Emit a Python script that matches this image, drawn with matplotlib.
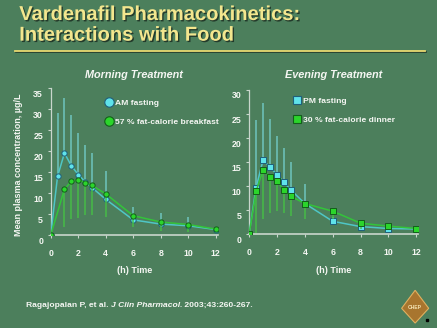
import matplotlib
matplotlib.use("Agg")
import matplotlib.pyplot as plt
import matplotlib.patheffects as pe
import matplotlib.transforms as mtransforms
from matplotlib.lines import Line2D
from matplotlib.patches import Polygon
import numpy as np

plt.rcParams['font.family'] = ['Liberation Sans', 'DejaVu Sans']
plt.rcParams['font.weight'] = 'bold'
plt.rcParams['axes.titleweight'] = 'bold'
plt.rcParams['axes.labelweight'] = 'bold'

# morning dosing
t_am = [0, 0.5, 1, 1.5, 2, 2.5, 3, 4, 6, 8, 10, 12]
am_fasting = [0, 14.0, 19.5, 16.5, 14.4, 12.7, 11.3, 8.5, 3.6, 2.6, 2.2, 1.3]
am_fasting_hi = [0, 29.0, 32.7, 28.7, 24.4, 21.5, 19.5, 15.2, 6.6, 5.3, 4.4, 1.6]
t_breakfast = [0, 1, 1.5, 2, 2.5, 3, 4, 6, 8, 10, 12]
breakfast = [0, 10.9, 12.8, 13.1, 12.5, 11.8, 9.8, 4.6, 3.1, 2.5, 1.4]
breakfast_lo = [0, 2.0, 3.8, 4.0, 4.8, 4.8, 4.2, 2.0, 1.0, 0.6, 1.0]

# evening dosing
t_pm = [0, 0.5, 1, 1.5, 2, 2.5, 3, 4, 6, 8, 10, 12]
pm_fasting = [0, 9.7, 15.4, 14.0, 12.4, 10.8, 9.2, 6.4, 2.7, 1.6, 1.2, 1.1]
pm_fasting_hi = [0, 23.8, 27.3, 24.0, 20.5, 17.9, 15.0, 10.4, 3.5, 2.4, 2.3, 1.6]
dinner = [0, 8.9, 13.3, 12.0, 11.0, 9.3, 7.9, 6.4, 4.8, 2.3, 1.7, 1.2]
dinner_lo = [0, 0.2, 3.2, 4.5, 4.9, 4.5, 3.8, 3.1, 3.2, 1.2, 0.9, 0.6]

x_ticks = [0, 2, 4, 6, 8, 10, 12]

BG = '#4c7f5c'
TITLE_YELLOW = '#f3e68e'
CYAN_LINE = '#4fc6c6'
CYAN_FACE = '#5fe3ea'
CYAN_EDGE = '#1f5f7a'
CYAN_BAR = '#72cbc6'
GREEN_LINE = '#33c43a'
GREEN_FACE = '#2bd52b'
GREEN_EDGE = '#135f1a'
GREEN_BAR = '#45c045'
AXIS = '#c9d6cc'
WHITE = '#f4f6f2'

fig = plt.figure(figsize=(4.37, 3.28), dpi=100, facecolor=BG)

shadow = [pe.withSimplePatchShadow(offset=(1, -1), shadow_rgbFace='#1f3326', alpha=0.9)]
fig.text(0.044, 0.939, 'Vardenafil Pharmacokinetics:', fontsize=14.5,
         color=TITLE_YELLOW, va='baseline', path_effects=shadow)
fig.text(0.044, 0.876, 'Interactions with Food', fontsize=14.5,
         color=TITLE_YELLOW, va='baseline', path_effects=shadow)
fig.add_artist(Line2D([0.036, 0.975], [0.841, 0.841], color='#243a2b',
                      lw=1.2, transform=fig.transFigure))
fig.add_artist(Line2D([0.034, 0.973], [0.845, 0.845], color='#e8d870',
                      lw=1.3, transform=fig.transFigure))


def style_axes(ax, ymax):
    ax.set_facecolor('none')
    ax.set_xlim(0, 12.15)
    ax.set_ylim(0, ymax)
    for side in ('top', 'right'):
        ax.spines[side].set_visible(False)
    ax.spines['left'].set_color(AXIS)
    ax.spines['bottom'].set_color(AXIS)
    ax.spines['left'].set_linewidth(0.9)
    ax.spines['bottom'].set_linewidth(1.2)
    ax.set_xticks(x_ticks)
    ax.set_yticks(np.arange(0, ymax + 1, 5))
    ax.tick_params(axis='x', colors=AXIS, length=2, width=0.8, pad=8,
                   labelsize=6.3, labelcolor=WHITE)
    ax.tick_params(axis='y', colors=AXIS, length=2.5, width=0.8, pad=3,
                   labelsize=6.3, labelcolor=WHITE)
    # value labels sit a little below their tick marks
    shift = mtransforms.ScaledTranslation(0, -0.05, fig.dpi_scale_trans)
    for lbl in ax.get_yticklabels():
        lbl.set_transform(lbl.get_transform() + shift)
    ax.set_xlabel('(h) Time', fontsize=6.5, color=WHITE, labelpad=6)


def draw_series(ax, t, y, lo, hi, line_c, face_c, edge_c, bar_c, marker, z):
    y = np.array(y)
    err = [y - np.array(lo), np.array(hi) - y]
    ax.errorbar(t, y, yerr=err, fmt='none', ecolor=bar_c, elinewidth=1.2,
                capsize=0, alpha=0.85, zorder=z)
    ax.plot(t, y, color=line_c, lw=1.1, marker=marker, markersize=3.8,
            markerfacecolor=face_c, markeredgecolor=edge_c,
            markeredgewidth=0.7, zorder=z + 1)


def legend_handles(marker, size):
    return [Line2D([], [], ls='none', marker=marker, markersize=size,
                   markerfacecolor=face, markeredgecolor=edge,
                   markeredgewidth=0.8)
            for face, edge in ((CYAN_FACE, CYAN_EDGE), (GREEN_FACE, GREEN_EDGE))]


# morning panel
ax1 = fig.add_axes([0.116, 0.2835, 0.3825, 0.448])
style_axes(ax1, 35)
draw_series(ax1, t_am, am_fasting, am_fasting, am_fasting_hi,
            CYAN_LINE, CYAN_FACE, CYAN_EDGE, CYAN_BAR, 'o', 2)
draw_series(ax1, t_breakfast, breakfast, breakfast_lo, breakfast,
            GREEN_LINE, GREEN_FACE, GREEN_EDGE, GREEN_BAR, 'o', 4)
ax1.set_title('Morning Treatment', fontsize=7.8, style='italic',
              color=WHITE, pad=7.5)
fig.text(0.043, 0.497, 'Mean plasma concentration, \u00b5g/L', rotation=90,
         fontsize=6.5, color=WHITE, ha='center', va='center')
ax1.legend(legend_handles('o', 6.8), ['AM fasting', '57 % fat-calorie breakfast'],
           loc='upper left', bbox_to_anchor=(0.232, 0.712),
           bbox_transform=fig.transFigure, frameon=False, fontsize=6.1,
           labelcolor=WHITE, handlelength=0.8, handletextpad=0.35,
           labelspacing=1.35, borderpad=0)

# evening panel
ax2 = fig.add_axes([0.570, 0.2857, 0.3875, 0.440])
style_axes(ax2, 30)
draw_series(ax2, t_pm, pm_fasting, pm_fasting, pm_fasting_hi,
            CYAN_LINE, CYAN_FACE, CYAN_EDGE, CYAN_BAR, 's', 2)
draw_series(ax2, t_pm, dinner, dinner_lo, dinner,
            GREEN_LINE, GREEN_FACE, GREEN_EDGE, GREEN_BAR, 's', 4)
ax2.set_title('Evening Treatment', fontsize=7.8, style='italic',
              color=WHITE, pad=8.5)
ax2.legend(legend_handles('s', 6.0), ['PM fasting', '30 % fat-calorie dinner'],
           loc='upper left', bbox_to_anchor=(0.662, 0.718),
           bbox_transform=fig.transFigure, frameon=False, fontsize=6.1,
           labelcolor=WHITE, handlelength=0.8, handletextpad=0.35,
           labelspacing=1.35, borderpad=0)

# reference line at the bottom, journal name in italics
ref1 = fig.text(0.059, 0.064, 'Ragajopalan P, et al. ', fontsize=6.1,
                color=WHITE, va='baseline')
ref2 = ax1.annotate('J Clin Pharmacol.', xy=(1, 0), xycoords=ref1,
                    fontsize=6.1, color=WHITE, style='italic',
                    va='bottom', ha='left', annotation_clip=False)
ax1.annotate(' 2003;43:260-267.', xy=(1, 0), xycoords=ref2, fontsize=6.1,
             color=WHITE, va='bottom', ha='left', annotation_clip=False)

# small diamond badge in the corner
badge = Polygon([[0.950, 0.115], [0.981, 0.06], [0.950, 0.015],
                 [0.919, 0.06]], closed=True, transform=fig.transFigure,
                facecolor='#a8752e', edgecolor='#e0b060', lw=0.8)
fig.add_artist(badge)
fig.text(0.950, 0.062, 'CHEP', fontsize=3.6, color='#f3e1b0',
         ha='center', va='center')
fig.add_artist(Line2D([0.977], [0.025], marker='s', markersize=1.5,
                      color='black', transform=fig.transFigure))

fig.savefig('out.png', dpi=100, facecolor=BG)
